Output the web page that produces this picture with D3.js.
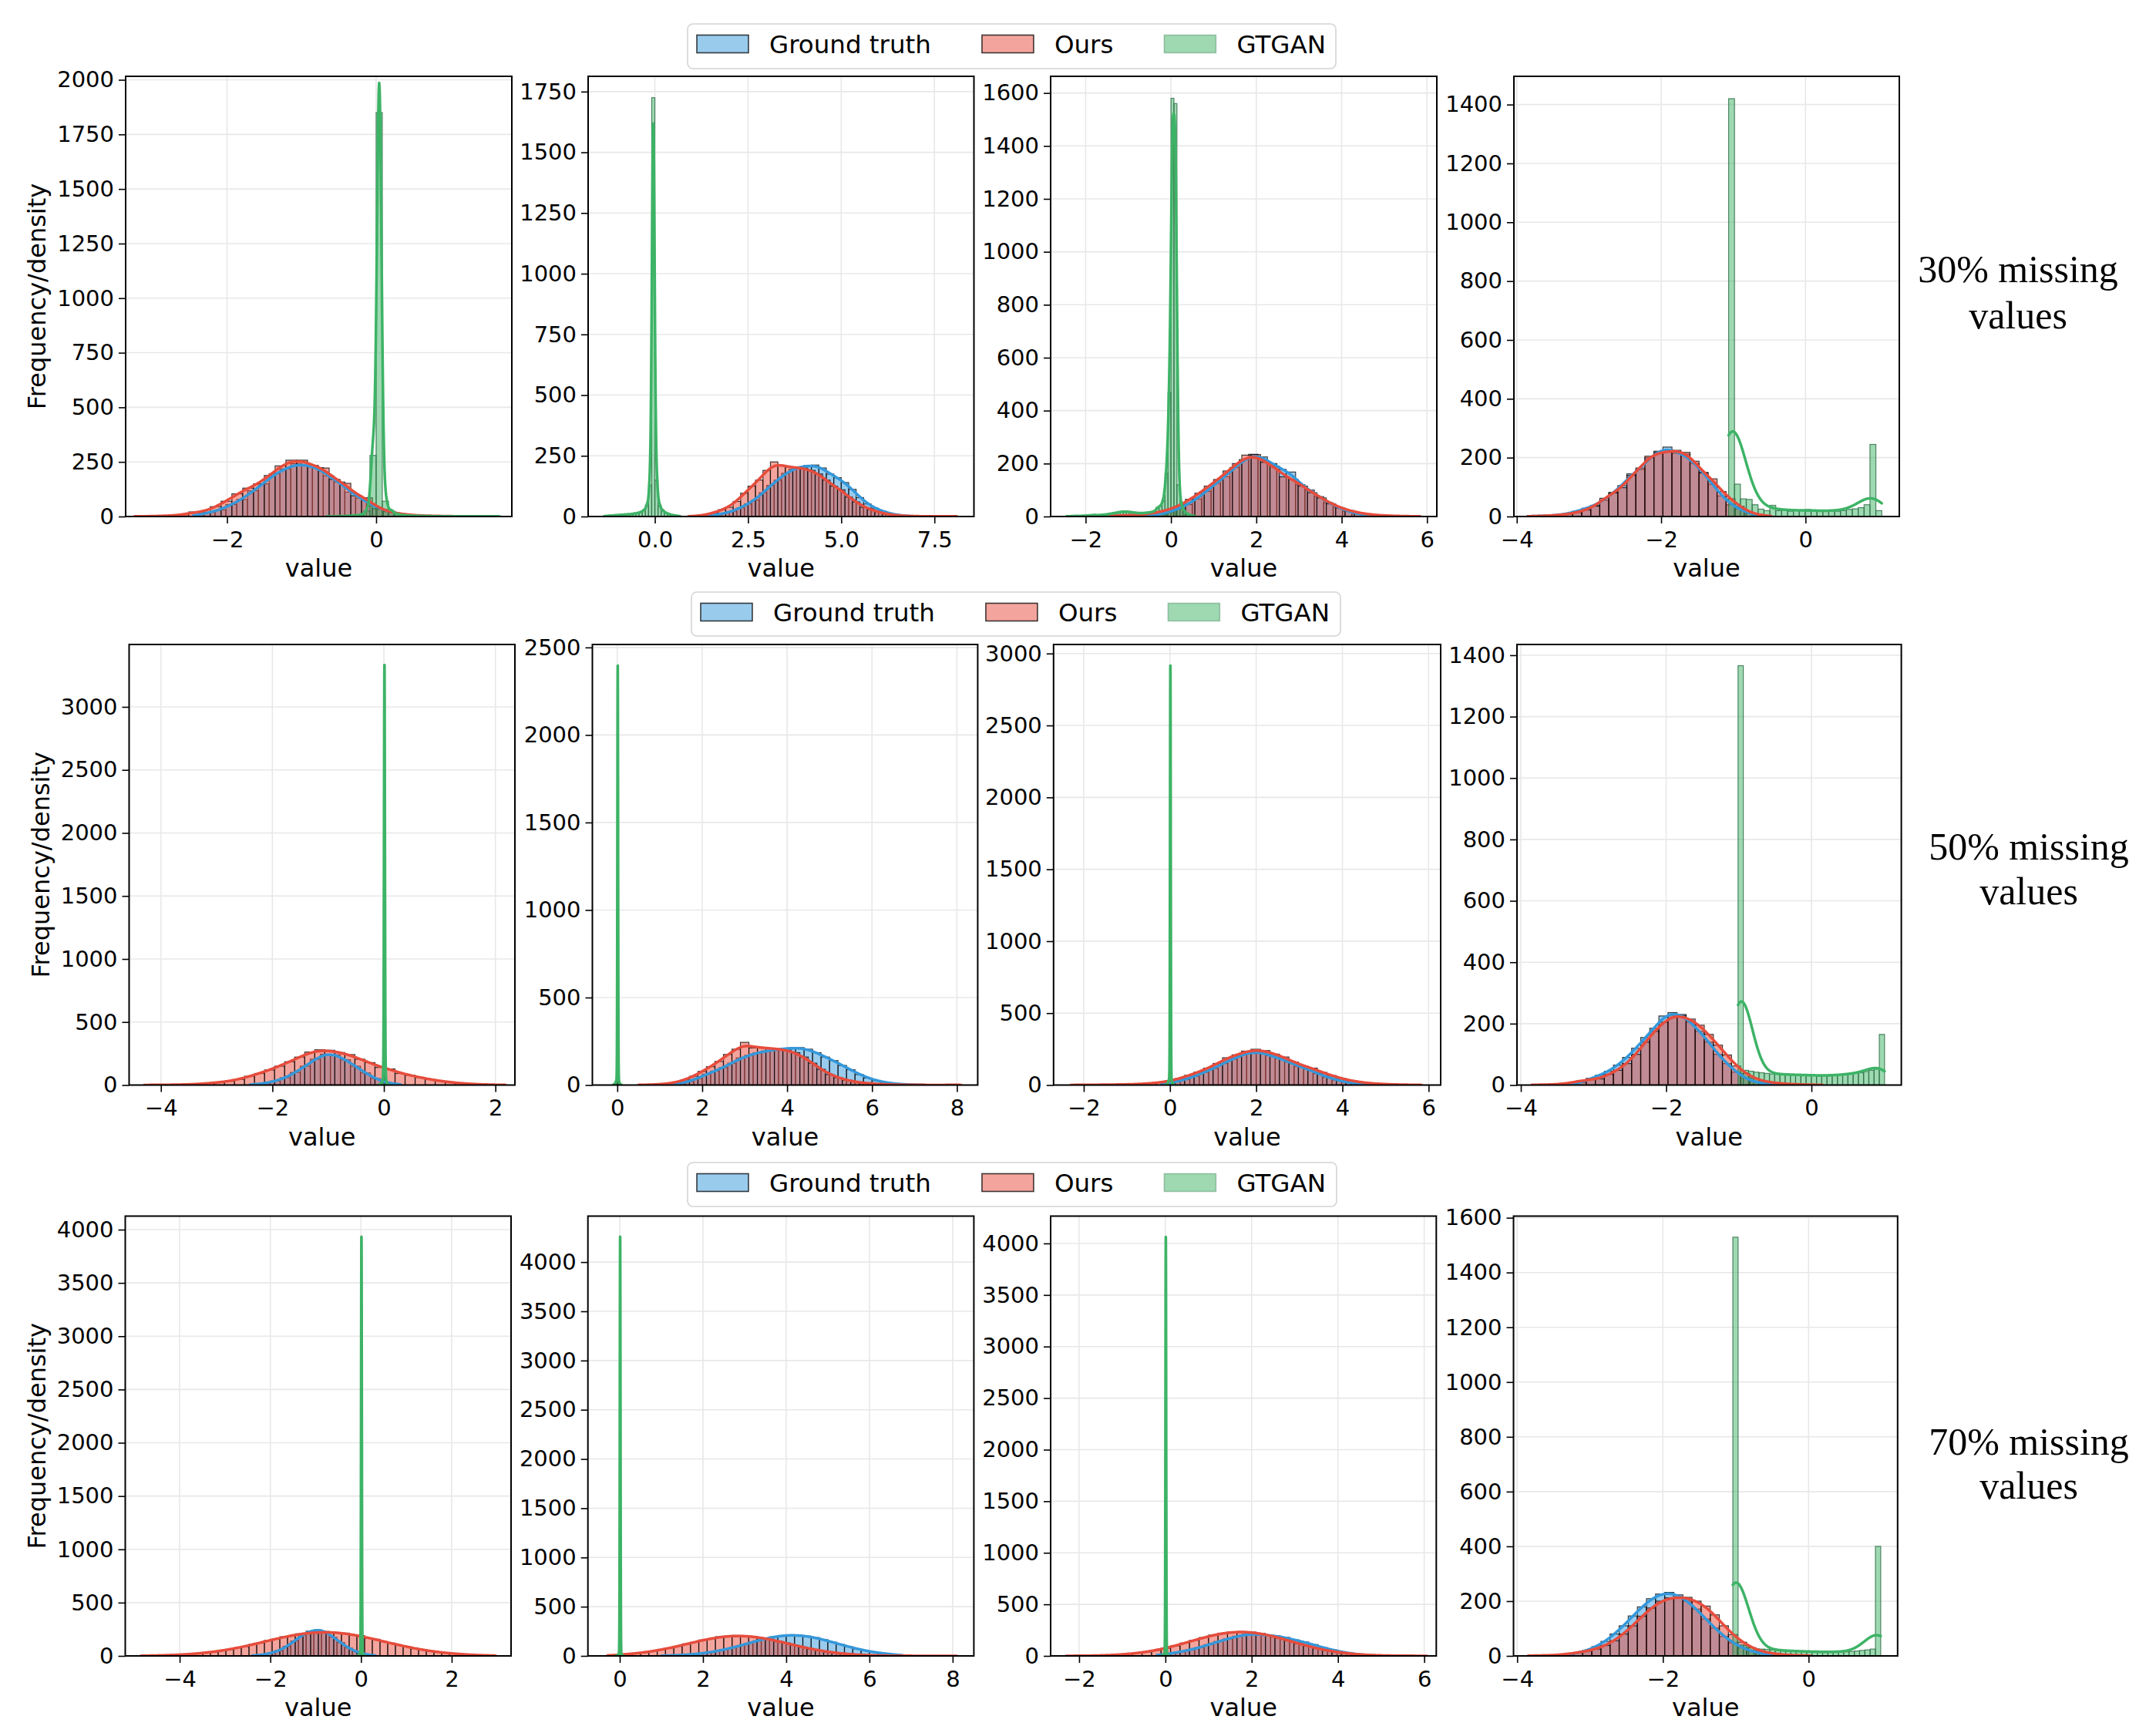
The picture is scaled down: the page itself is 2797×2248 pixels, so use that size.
<!DOCTYPE html>
<html>
<head>
<meta charset="utf-8">
<script src="https://cdn.jsdelivr.net/npm/d3@7"></script>
<style>
  body { margin: 0; background: #fff; }
  svg { display: block; }
</style>
</head>
<body>
<svg id="fig" width="2797" height="2248"></svg>
<script>

// ---- data: histogram counts per feature (4 features per missing rate) ----
// bins are [first edge, bin width]; counts

var notes = ["30% missing", "50% missing", "70% missing"];
var seriesNames = ["Ground truth", "Ours", "GTGAN"];

// 30% missing
var gtBins30 = [[-2.45, 0.145], [1.2, 0.2], [-0.6, 0.22], [-3.85, 0.125]];
var gt30 = [
    [8, 19, 30, 55, 78, 118, 150, 196, 218, 242, 235, 224, 186, 158, 112, 84, 50, 33, 16, 10],
    [2, 4, 8, 14, 22, 36, 52, 68, 98, 128, 150, 178, 195, 205, 210, 212, 200, 175, 160, 140, 112, 78, 52, 34, 22, 12, 6, 3, 1],
    [3, 8, 15, 28, 45, 66, 95, 125, 150, 185, 215, 235, 225, 200, 178, 168, 120, 100, 75, 52, 35, 20, 10, 5, 2],
    [1, 2, 3, 5, 10, 18, 28, 38, 55, 82, 105, 145, 160, 200, 222, 236, 215, 212, 180, 150, 110, 70, 40, 25, 10, 4]
];
var oursBins30 = [[-3.24, 0.145], [0.9, 0.2], [-2.3, 0.22], [-3.85, 0.125]];
var ours30 = [
    [1, 1, 3, 4, 8, 21, 20, 45, 70, 104, 130, 150, 188, 232, 258, 258, 234, 222, 170, 152, 95, 86, 36, 22, 12, 7, 4, 3, 2, 1, 1],
    [1, 3, 8, 15, 28, 38, 62, 96, 125, 150, 190, 225, 210, 204, 200, 200, 190, 175, 150, 125, 110, 80, 60, 38, 28, 18, 10, 6, 3, 2, 1, 1, 1, 0, 1, 1],
    [1, 1, 2, 2, 3, 4, 5, 7, 12, 18, 28, 42, 65, 88, 115, 140, 172, 200, 232, 234, 205, 190, 150, 140, 115, 90, 70, 48, 32, 22, 13, 8, 5, 3, 2, 1, 1],
    [1, 2, 3, 5, 8, 14, 22, 35, 62, 80, 98, 140, 165, 205, 218, 220, 225, 218, 188, 148, 128, 85, 60, 35, 15, 6, 2]
];
var ganBins30 = [[-0.664, 0.083], [-1.36, 0.085], [-2.45, 0.07], [-1.065, 0.0816]];
var ganBw30 = [0.031, 0.0365, 0.038, 0.18];
var gan30 = [
    [1, 1, 2, 3, 5, 8, 25, 280, 1850, 70, 25, 10, 6, 4, 3, 2, 2, 1, 1, 1, 1, 1, 1, 1, 1, 1, 1, 1],
    [2, 3, 4, 5, 6, 7, 8, 9, 10, 12, 14, 18, 25, 45, 130, 1725, 150, 45, 25, 15, 10, 6, 4, 2],
    [1, 1, 2, 2, 2, 3, 3, 4, 5, 6, 5, 6, 7, 8, 10, 12, 14, 16, 18, 18, 18, 17, 15, 14, 13, 13, 14, 15, 17, 20,
     34, 40, 60, 164, 469, 1580, 1560, 120, 40, 20, 10, 5, 2],
    [1420, 110, 60, 58, 40, 25, 20, 38, 20, 22, 18, 22, 20, 24, 18, 20, 18, 20, 18, 20, 24, 26, 30, 40, 245, 20]
];

// 50% missing
var gtBins50 = [[-2.4, 0.18], [1.2, 0.2], [-0.2, 0.22], [-3.35, 0.125]];
var gt50 = [
    [6, 14, 32, 58, 100, 150, 205, 245, 240, 200, 150, 96, 52, 22, 8],
    [4, 8, 20, 38, 62, 80, 100, 125, 155, 170, 185, 195, 200, 208, 212, 214, 205, 185, 160, 140, 112, 88, 60, 40, 25, 15, 8, 4, 2, 1],
    [10, 22, 38, 60, 88, 115, 150, 180, 210, 232, 230, 205, 185, 160, 130, 110, 80, 55, 35, 20, 10, 5],
    [3, 8, 22, 32, 45, 65, 90, 120, 155, 185, 225, 236, 230, 205, 175, 140, 100, 70, 42, 22, 10, 5, 2]
];
var oursBins50 = [[-4.3, 0.18], [0.5, 0.2], [-2.3, 0.22], [-3.85, 0.125]];
var ours50 = [
    [1, 1, 2, 3, 5, 8, 14, 22, 30, 45, 70, 92, 120, 150, 185, 222, 262, 280, 276, 258, 242, 205, 178, 140, 128, 92, 78, 60, 44, 32, 22, 14, 9, 5, 3, 1],
    [1, 2, 4, 8, 15, 30, 50, 78, 105, 135, 175, 205, 244, 212, 215, 210, 205, 200, 185, 160, 125, 90, 60, 42, 28, 18, 12, 8, 5, 3, 2, 1, 1, 1, 0, 0, 1, 1],
    [1, 1, 2, 2, 3, 4, 5, 8, 12, 18, 28, 45, 68, 90, 118, 150, 190, 210, 236, 249, 240, 215, 195, 160, 132, 118, 88, 66, 46, 30, 20, 12, 8, 5, 3, 2, 1],
    [1, 1, 2, 4, 8, 15, 18, 20, 35, 48, 70, 100, 140, 175, 205, 228, 226, 215, 195, 165, 130, 98, 62, 38, 22, 12, 8, 5, 3, 2, 1, 1]
];
var ganBins50 = [[-0.1, 0.02], [-0.1, 0.02], [-0.1, 0.02], [-1.01, 0.072]];
var ganBw50 = [0.008, 0.008, 0.008, 0.155];
var gan50 = [
    [2, 5, 10, 25, 60, 3335, 80, 20, 6, 2],
    [2, 5, 10, 20, 40, 2400, 40, 15, 5, 2],
    [3, 8, 15, 30, 60, 2920, 50, 20, 8, 3],
    [1366, 48, 45, 42, 40, 38, 36, 35, 34, 35, 34, 33, 32, 33, 32, 30, 31, 30, 32, 33, 35, 36, 38, 40, 44, 48, 52, 165]
];

// 70% missing
var gtBins70 = [[-2.4, 0.17], [1.0, 0.2], [-0.2, 0.22], [-3.35, 0.125]];
var gt70 = [
    [5, 12, 28, 50, 90, 140, 195, 232, 245, 230, 175, 125, 75, 40, 18, 6],
    [3, 5, 9, 14, 21, 32, 45, 62, 82, 105, 129, 153, 176, 194, 207, 213, 211, 201, 186, 165, 141, 117, 93, 72, 53, 38, 26, 17, 11],
    [12, 22, 40, 58, 80, 110, 140, 165, 192, 210, 215, 200, 195, 180, 155, 135, 110, 80, 58, 38, 22, 12, 5],
    [6, 11, 20, 34, 53, 80, 110, 146, 179, 209, 226, 232, 223, 200, 171, 135, 102, 71, 48, 29, 17, 9, 5]
];
var oursBins70 = [[-4.85, 0.17], [-0.3, 0.2], [-2.3, 0.22], [-3.85, 0.125]];
var ours70 = [
    [2, 3, 4, 8, 9, 12, 18, 22, 31, 38, 50, 60, 76, 88, 109, 122, 145, 158, 180, 190, 207, 213, 224, 222, 227, 218, 214, 196, 190, 168, 156, 133, 120, 98, 87, 68, 58, 44, 37, 27, 22, 15, 12, 7, 6, 4],
    [7, 12, 17, 27, 34, 50, 61, 82, 97, 122, 138, 162, 176, 195, 200, 208, 203, 199, 183, 172, 149, 132, 107, 90, 70, 56, 40, 31, 21, 15, 10, 6, 4, 3, 2, 1, 1, 1, 0, 0, 0, 1],
    [1, 1, 2, 4, 7, 11, 18, 27, 39, 55, 75, 98, 125, 152, 178, 202, 221, 232, 236, 231, 218, 198, 174, 147, 120, 94, 71, 52, 37, 25, 16, 10, 6, 4, 2, 1, 1, 1],
    [1, 2, 2, 4, 8, 12, 18, 25, 38, 55, 80, 110, 145, 175, 200, 212, 215, 214, 200, 182, 150, 110, 78, 50, 30, 18, 10, 6, 3, 2, 1]
];
var ganBins70 = [[-0.1, 0.02], [-0.1, 0.02], [-0.1, 0.02], [-1.04, 0.0725]];
var ganBw70 = [0.008, 0.008, 0.008, 0.175];
var gan70 = [
    [2, 4, 8, 15, 30, 3940, 30, 12, 4, 2],
    [2, 4, 8, 15, 30, 4265, 30, 12, 4, 2],
    [2, 4, 8, 15, 30, 4070, 30, 12, 4, 2],
    [1529, 40, 38, 30, 26, 25, 24, 22, 20, 20, 18, 18, 17, 16, 16, 15, 15, 14, 14, 14, 15, 15, 16, 18, 20, 22, 25, 400]
];

// axis limits and tick steps
var xDom30 = [[-3.36, 1.82], [-1.79, 8.56], [-2.82, 6.23], [-4.04, 1.30]];
var yMax30 = [2016, 1813, 1663, 1496];
var xDom50 = [[-4.57, 2.35], [-0.587, 8.49], [-2.70, 6.28], [-4.053, 1.237]];
var yMax50 = [3495, 2517, 3063, 1435];
var xDom70 = [[-5.20, 3.31], [-0.765, 8.51], [-2.66, 6.28], [-4.05, 1.222]];
var yMax70 = [4127, 4467, 4265, 1606];
var xStep = [[2, 2.5, 2, 2], [2, 2, 2, 2], [2, 2, 2, 2]];
var yStep = [[250, 250, 200, 200], [500, 500, 500, 200], [500, 500, 500, 200]];

// ---- layout ----
var rowLayout = [
    {top: 99, bottom: 670, lefts: [163, 763, 1363, 1964], rights: [664, 1263.5, 1864, 2464],
     legend: [892, 31, 841, 58], note: [2618, 366, 426]},
    {top: 836, bottom: 1407.5, lefts: [167.5, 768.5, 1366.8, 1968], rights: [668, 1268.4, 1869, 2466.6],
     legend: [897, 768, 842, 57], note: [2632, 1115, 1173]},
    {top: 1577.5, bottom: 2148, lefts: [162.5, 762.7, 1363, 1963.5], rights: [663, 1263.4, 1863.3, 2461.8],
     legend: [892, 1508, 842, 57], note: [2632, 1887, 1944]}
];

var BLUE = "#3498db", RED = "#e74c3c", GREEN = "#3db366";
var seriesStyle = [
    {color: BLUE, edge: "#000", edgeOpacity: 0.75},
    {color: RED, edge: "#000", edgeOpacity: 0.75},
    {color: GREEN, edge: "#2c6b43", edgeOpacity: 0.8}
];
var SANS = "DejaVu Sans";

var rows = [
    {gt: gt30, gtBins: gtBins30, ours: ours30, oursBins: oursBins30, gan: gan30, ganBins: ganBins30, ganBw: ganBw30, xDom: xDom30, yMax: yMax30},
    {gt: gt50, gtBins: gtBins50, ours: ours50, oursBins: oursBins50, gan: gan50, ganBins: ganBins50, ganBw: ganBw50, xDom: xDom50, yMax: yMax50},
    {gt: gt70, gtBins: gtBins70, ours: ours70, oursBins: oursBins70, gan: gan70, ganBins: ganBins70, ganBw: ganBw70, xDom: xDom70, yMax: yMax70}
];

var svg = d3.select("#fig");
var defs = svg.append("defs");

function ticksFor(dom, step) {
    var lo = Math.ceil(dom[0] / step - 1e-9), hi = Math.floor(dom[1] / step + 1e-9);
    return d3.range(lo, hi + 1).map(function (k) { return +(k * step).toFixed(6); });
}

// gaussian KDE over the binned values, scaled to counts like seaborn (cut = 0)
function kdeCurve(bins, counts, bwOverride) {
    var x0 = bins[0], w = bins[1];
    var centers = counts.map(function (c, i) { return x0 + (i + 0.5) * w; });
    var n = d3.sum(counts);
    var mean = d3.sum(counts, function (c, i) { return c * centers[i]; }) / n;
    var variance = d3.sum(counts, function (c, i) { return c * Math.pow(centers[i] - mean, 2); }) / (n - 1);
    var bw = bwOverride || Math.sqrt(variance) * Math.pow(n, -0.2);
    var lo = x0, hi = x0 + counts.length * w;
    var norm = w / (bw * Math.sqrt(2 * Math.PI));
    return d3.range(0, 400).map(function (k) {
        var x = lo + (hi - lo) * k / 399;
        var v = d3.sum(counts, function (c, i) {
            var z = (x - centers[i]) / bw;
            return c * norm * Math.exp(-0.5 * z * z);
        });
        return [x, v];
    });
}

function drawPanel(row, lay, r, c) {
    var left = lay.lefts[c], right = lay.rights[c], top = lay.top, bottom = lay.bottom;
    var x = d3.scaleLinear().domain(row.xDom[c]).range([left, right]);
    var y = d3.scaleLinear().domain([0, row.yMax[c]]).range([bottom, top]);
    var xt = ticksFor(row.xDom[c], xStep[r][c]);
    var yt = ticksFor([0, row.yMax[c]], yStep[r][c]);
    var xFmt = xStep[r][c] % 1 ? d3.format(".1f") : d3.format("d");

    var clipId = "clip-" + r + "-" + c;
    defs.append("clipPath").attr("id", clipId)
        .append("rect").attr("x", left).attr("y", top).attr("width", right - left).attr("height", bottom - top);

    var g = svg.append("g");

    // grid
    g.append("g").selectAll("line").data(xt).join("line")
        .attr("x1", function (d) { return x(d); }).attr("x2", function (d) { return x(d); })
        .attr("y1", top).attr("y2", bottom)
        .attr("stroke", "#e8e8e8").attr("stroke-width", 1.6);
    g.append("g").selectAll("line").data(yt).join("line")
        .attr("y1", function (d) { return y(d); }).attr("y2", function (d) { return y(d); })
        .attr("x1", left).attr("x2", right)
        .attr("stroke", "#e8e8e8").attr("stroke-width", 1.6);

    var plot = g.append("g").attr("clip-path", "url(#" + clipId + ")");
    var series = [
        {bins: row.gtBins[c], counts: row.gt[c], bw: null, style: seriesStyle[0]},
        {bins: row.oursBins[c], counts: row.ours[c], bw: null, style: seriesStyle[1]},
        {bins: row.ganBins[c], counts: row.gan[c], bw: row.ganBw[c], style: seriesStyle[2]}
    ];

    // histogram bars
    series.forEach(function (s) {
        var x0 = s.bins[0], w = s.bins[1];
        var bars = s.counts.map(function (v, i) { return {a: x0 + i * w, b: x0 + (i + 1) * w, v: v}; })
            .filter(function (d) { return d.v > 0; });
        plot.append("g").selectAll("rect").data(bars).join("rect")
            .attr("x", function (d) { return x(d.a); })
            .attr("width", function (d) { return x(d.b) - x(d.a); })
            .attr("y", function (d) { return y(d.v); })
            .attr("height", function (d) { return y(0) - y(d.v); })
            .attr("fill", s.style.color).attr("fill-opacity", 0.5)
            .attr("stroke", s.style.edge).attr("stroke-opacity", s.style.edgeOpacity)
            .attr("stroke-width", 1.2);
    });

    // kde lines
    var line = d3.line().x(function (d) { return x(d[0]); }).y(function (d) { return y(d[1]); });
    series.forEach(function (s) {
        plot.append("path").datum(kdeCurve(s.bins, s.counts, s.bw))
            .attr("d", line).attr("fill", "none")
            .attr("stroke", s.style.color).attr("stroke-width", 3.5)
            .attr("stroke-linejoin", "round").attr("stroke-linecap", "round");
    });

    // axes
    var ax = g.append("g").attr("transform", "translate(0," + bottom + ")")
        .call(d3.axisBottom(x).tickValues(xt).tickFormat(xFmt).tickSize(9).tickPadding(10).tickSizeOuter(0));
    var ay = g.append("g").attr("transform", "translate(" + left + ",0)")
        .call(d3.axisLeft(y).tickValues(yt).tickFormat(d3.format("d")).tickSize(9).tickPadding(6).tickSizeOuter(0));
    [ax, ay].forEach(function (a) {
        a.select(".domain").remove();
        a.attr("font-family", SANS).attr("font-size", 29);
        a.selectAll("line").attr("stroke", "#000").attr("stroke-width", 1.6);
        a.selectAll("text").attr("fill", "#000");
    });

    g.append("rect").attr("x", left).attr("y", top)
        .attr("width", right - left).attr("height", bottom - top)
        .attr("fill", "none").attr("stroke", "#000").attr("stroke-width", 2);

    g.append("text").attr("x", (left + right) / 2).attr("y", bottom + 78)
        .attr("text-anchor", "middle").attr("font-family", SANS).attr("font-size", 32)
        .text("value");

    if (c === 0) {
        g.append("text")
            .attr("transform", "translate(" + (left - 104) + "," + ((top + bottom) / 2) + ") rotate(-90)")
            .attr("text-anchor", "middle").attr("font-family", SANS).attr("font-size", 32)
            .text("Frequency/density");
    }
}

function drawLegend(box) {
    var lg = svg.append("g");
    lg.append("rect").attr("x", box[0]).attr("y", box[1]).attr("width", box[2]).attr("height", box[3])
        .attr("rx", 7).attr("fill", "#fff").attr("stroke", "#d4d4d4").attr("stroke-width", 1.6);
    var cursor = box[0] + 12;
    seriesNames.forEach(function (name, i) {
        var st = seriesStyle[i];
        lg.append("rect").attr("x", cursor).attr("y", box[1] + 14.5).attr("width", 67).attr("height", 23)
            .attr("fill", st.color).attr("fill-opacity", 0.5)
            .attr("stroke", st.edge).attr("stroke-opacity", i === 2 ? 0.35 : st.edgeOpacity).attr("stroke-width", 1.6);
        var t = lg.append("text").attr("x", cursor + 67 + 27).attr("y", box[1] + 38)
            .attr("font-family", SANS).attr("font-size", 32.5).text(name);
        cursor = cursor + 67 + 27 + t.node().getComputedTextLength() + 66;
    });
}

function drawNote(text, pos) {
    var ng = svg.append("g").attr("font-family", "Liberation Serif, Times New Roman, serif")
        .attr("font-size", 50).attr("text-anchor", "middle");
    ng.append("text").attr("x", pos[0]).attr("y", pos[1]).text(text);
    ng.append("text").attr("x", pos[0]).attr("y", pos[2]).text("values");
}

rows.forEach(function (row, r) {
    var lay = rowLayout[r];
    for (var c = 0; c < 4; c++) drawPanel(row, lay, r, c);
    drawLegend(lay.legend);
    drawNote(notes[r], lay.note);
});

</script>
</body>
</html>
